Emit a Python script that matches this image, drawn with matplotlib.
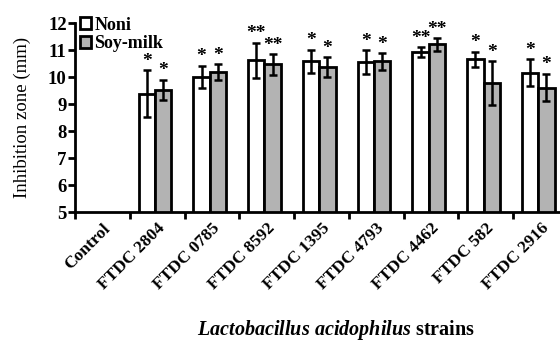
import numpy as np
import matplotlib
matplotlib.use("Agg")
import matplotlib.pyplot as plt

plt.rcParams['font.family'] = ['Liberation Serif', 'DejaVu Serif']
plt.rcParams['mathtext.fontset'] = 'custom'
plt.rcParams['mathtext.it'] = 'Liberation Serif:italic:bold'
plt.rcParams['mathtext.rm'] = 'Liberation Serif:bold'

strains = ["Control", "FTDC 2804", "FTDC 0785", "FTDC 8592", "FTDC 1395",
           "FTDC 4793", "FTDC 4462", "FTDC 582", "FTDC 2916"]
noni = [0, 9.40, 10.01, 10.63, 10.59, 10.57, 10.94, 10.67, 10.17]
noni_err = [0, 0.87, 0.42, 0.65, 0.44, 0.44, 0.17, 0.27, 0.50]
soy = [0, 9.54, 10.20, 10.48, 10.38, 10.59, 11.22, 9.79, 9.62]
soy_err = [0, 0.38, 0.29, 0.38, 0.37, 0.31, 0.23, 0.81, 0.51]
noni_sig = ["", "*", "*", "**", "*", "*", "**", "*", "*"]
soy_sig = ["", "*", "*", "**", "*", "*", "**", "*", "*"]

fig = plt.figure(figsize=(5.6, 3.45), dpi=100)
ax = fig.add_axes([0.134, 0.385, 0.88, 0.547])

x = np.arange(len(strains))
w = 0.3
shift = -0.04
ekw = dict(elinewidth=1.8, capthick=1.8)
ax.bar(x + shift - w / 2, noni, w, yerr=noni_err, color='white', edgecolor='black',
       linewidth=2, capsize=3, error_kw=ekw, label='Noni', zorder=2)
ax.bar(x + shift + w / 2, soy, w, yerr=soy_err, color='#b3b3b3', edgecolor='black',
       linewidth=2, capsize=3, error_kw=ekw, label='Soy-milk', zorder=2)

for i in range(len(strains)):
    if noni_sig[i]:
        ax.text(x[i] + shift - w / 2, noni[i] + noni_err[i] + 0.02, noni_sig[i],
                ha='center', va='bottom', fontsize=14, fontweight='bold')
    if soy_sig[i]:
        ax.text(x[i] + shift + w / 2, soy[i] + soy_err[i] + 0.02, soy_sig[i],
                ha='center', va='bottom', fontsize=14, fontweight='bold')

ax.set_xlim(-0.5, len(strains) - 0.5)
ax.set_ylim(5, 12)
ax.set_yticks(range(5, 13))
ax.set_xticks(x)
ax.set_xticks(np.arange(len(strains) + 1) - 0.5, minor=True)
ax.set_xticklabels(strains, rotation=45, ha='right', rotation_mode='anchor')
ax.tick_params(axis='x', which='major', length=0, pad=6)
ax.tick_params(axis='x', which='minor', length=5, width=2)
ax.tick_params(axis='y', length=5, width=2, pad=1)
for lab in ax.get_xticklabels():
    lab.set_fontweight('bold')
    lab.set_fontsize(12.5)
for lab in ax.get_yticklabels():
    lab.set_fontweight('bold')
    lab.set_fontsize(13.5)

for s in ['top', 'right']:
    ax.spines[s].set_visible(False)
for s in ['left', 'bottom']:
    ax.spines[s].set_linewidth(2)

ax.set_ylabel("Inhibition zone (mm)", fontsize=13.5, labelpad=12)
ax.set_xlabel(r"$Lactobacillus\ acidophilus$ strains", fontsize=14.5,
              fontweight='bold')
ax.xaxis.set_label_coords(0.53, -0.56)

leg = ax.legend(loc='upper left', bbox_to_anchor=(-0.005, 1.075), frameon=False,
                handlelength=0.6, handleheight=0.6, handletextpad=0.2,
                labelspacing=0.1, borderaxespad=0,
                prop={'weight': 'bold', 'size': 13})

fig.savefig("out.png", dpi=100)
